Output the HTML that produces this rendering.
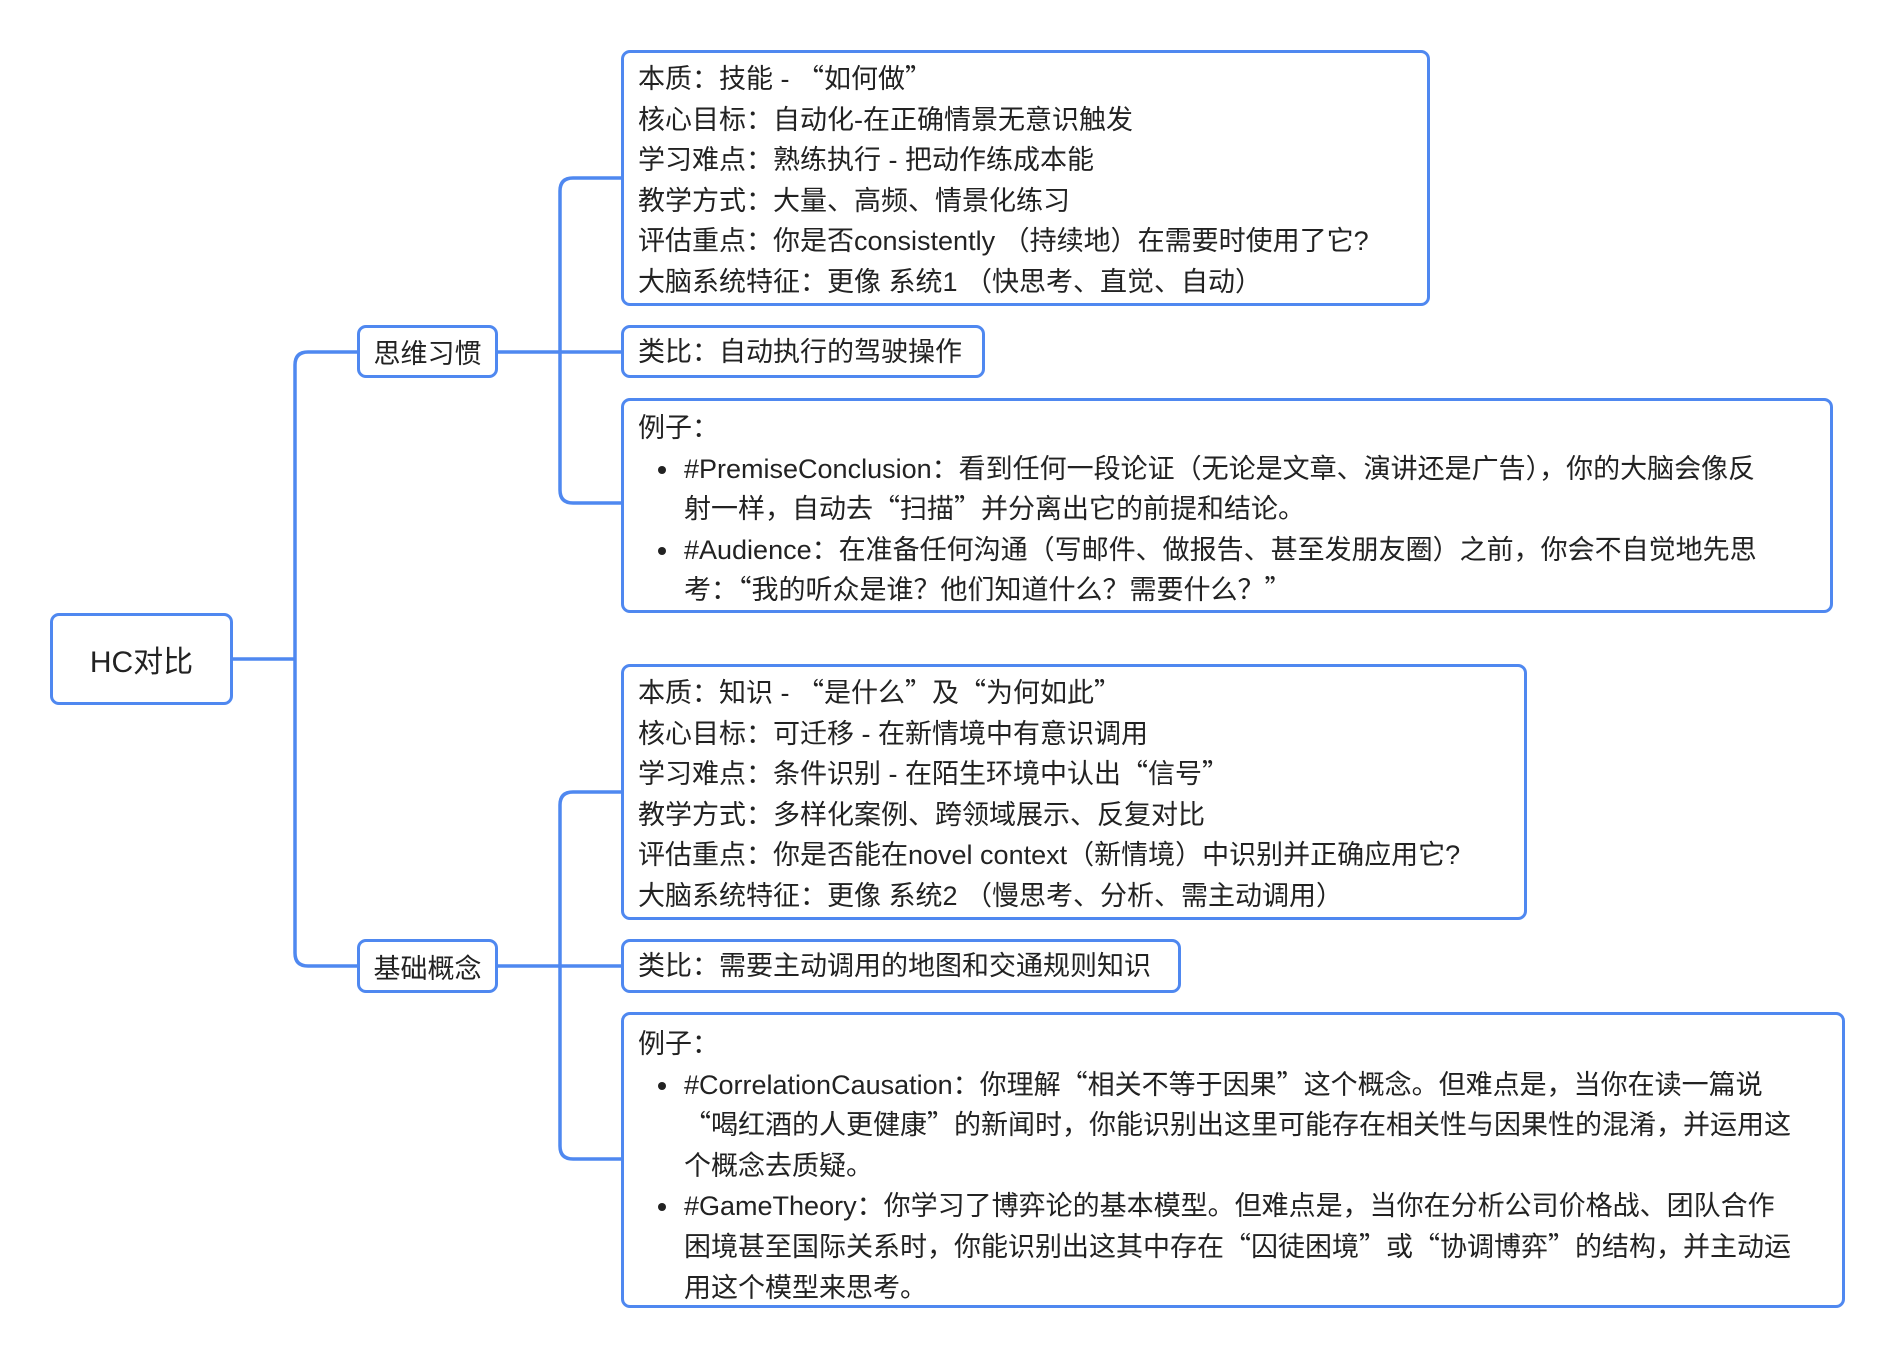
<!DOCTYPE html>
<html><head><meta charset="utf-8"><style>
html,body{margin:0;padding:0;background:#fff;width:1896px;height:1360px;overflow:hidden;position:relative}
body{font-family:"Liberation Sans","Noto Sans CJK SC",sans-serif;color:#222}
.b{position:absolute;box-sizing:border-box;border:3.5px solid #4f88f0;border-radius:9px;background:#fff}
.t{position:absolute;left:14px;top:6px;font-size:27px;line-height:40.6px;white-space:nowrap}
.t div{height:40.6px}
.c{display:flex;align-items:center;justify-content:center;font-size:27px;white-space:nowrap}
.li{position:relative;padding-left:46px}
.li:before{content:"";position:absolute;left:20px;top:17px;width:8px;height:8px;border-radius:50%;background:#222}
.ind{padding-left:46px}
q{quotes:none;font-family:"Noto Sans CJK SC",sans-serif;line-height:0}
</style></head><body>
<svg width="1896" height="1360" style="position:absolute;left:0;top:0">
<g fill="none" stroke="#4f88f0" stroke-width="3.5">
<path d="M233 659 H295"/>
<path d="M357 352 H308 Q295 352 295 365 V953 Q295 966 308 966 H357"/>
<path d="M498 352 H621"/>
<path d="M621 178 H573 Q560 178 560 191 V490 Q560 503 573 503 H621"/>
<path d="M498 966 H621"/>
<path d="M621 792 H573 Q560 792 560 805 V1146 Q560 1159 573 1159 H621"/>
</g></svg>
<div class="b c" style="left:50px;top:613px;width:183px;height:92px;font-size:30px">HC对比</div>
<div class="b c" style="left:357px;top:325px;width:141px;height:53px">思维习惯</div>
<div class="b c" style="left:357px;top:939px;width:141px;height:54px">基础概念</div>
<div class="b" style="left:621px;top:50px;width:809px;height:256px"><div class="t">
<div>本质：技能 - <q>“</q>如何做<q>”</q></div><div>核心目标：自动化-在正确情景无意识触发</div><div>学习难点：熟练执行 - 把动作练成本能</div><div>教学方式：大量、高频、情景化练习</div><div>评估重点：你是否consistently （持续地）在需要时使用了它?</div><div>大脑系统特征：更像 系统1 （快思考、直觉、自动）</div></div></div>
<div class="b" style="left:621px;top:325px;width:364px;height:53px"><div class="t" style="top:4px">类比：自动执行的驾驶操作</div></div>
<div class="b" style="left:621px;top:398px;width:1212px;height:215px"><div class="t" style="top:7px"><div>例子：</div>
<div class="li">#PremiseConclusion：看到任何一段论证（无论是文章、演讲还是广告），你的大脑会像反</div>
<div class="ind">射一样，自动去<q>“</q>扫描<q>”</q>并分离出它的前提和结论。</div>
<div class="li">#Audience：在准备任何沟通（写邮件、做报告、甚至发朋友圈）之前，你会不自觉地先思</div>
<div class="ind">考：<q>“</q>我的听众是谁？他们知道什么？需要什么？<q>”</q></div></div></div>
<div class="b" style="left:621px;top:664px;width:906px;height:256px"><div class="t">
<div>本质：知识 - <q>“</q>是什么<q>”</q>及<q>“</q>为何如此<q>”</q></div><div>核心目标：可迁移 - 在新情境中有意识调用</div><div>学习难点：条件识别 - 在陌生环境中认出<q>“</q>信号<q>”</q></div><div>教学方式：多样化案例、跨领域展示、反复对比</div><div>评估重点：你是否能在novel context（新情境）中识别并正确应用它?</div><div>大脑系统特征：更像 系统2 （慢思考、分析、需主动调用）</div></div></div>
<div class="b" style="left:621px;top:939px;width:560px;height:54px"><div class="t" style="top:4px">类比：需要主动调用的地图和交通规则知识</div></div>
<div class="b" style="left:621px;top:1012px;width:1224px;height:296px"><div class="t" style="top:9px"><div>例子：</div>
<div class="li">#CorrelationCausation：你理解<q>“</q>相关不等于因果<q>”</q>这个概念。但难点是，当你在读一篇说</div>
<div class="ind"><q>“</q>喝红酒的人更健康<q>”</q>的新闻时，你能识别出这里可能存在相关性与因果性的混淆，并运用这</div>
<div class="ind">个概念去质疑。</div>
<div class="li">#GameTheory：你学习了博弈论的基本模型。但难点是，当你在分析公司价格战、团队合作</div>
<div class="ind">困境甚至国际关系时，你能识别出这其中存在<q>“</q>囚徒困境<q>”</q>或<q>“</q>协调博弈<q>”</q>的结构，并主动运</div>
<div class="ind">用这个模型来思考。</div></div></div>
</body></html>
